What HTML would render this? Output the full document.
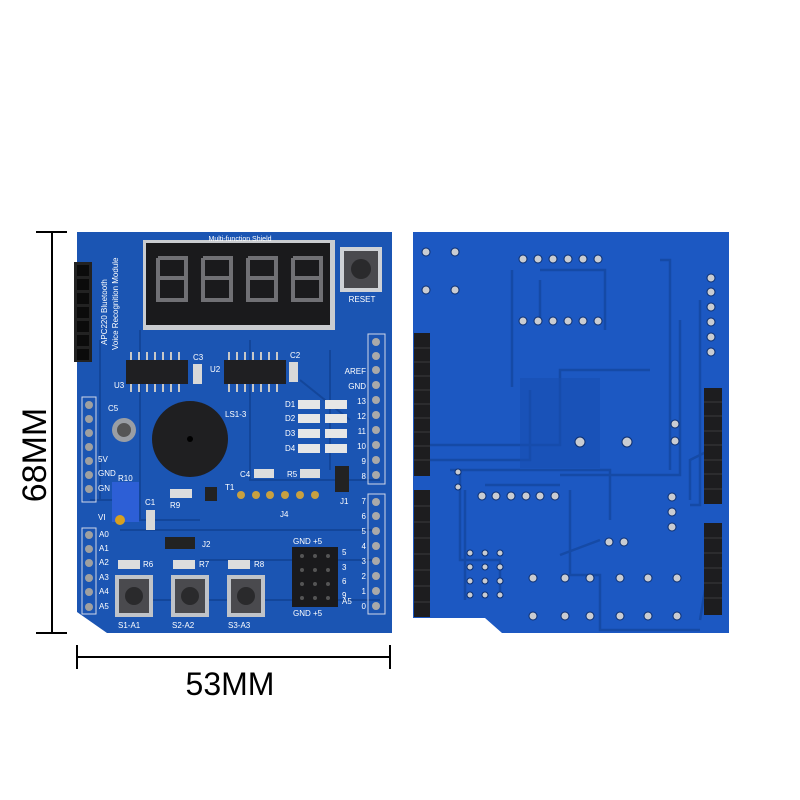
<!DOCTYPE html>
<html><head><meta charset="utf-8"><style>
html,body{margin:0;padding:0;background:#fff;}
svg{display:block;}
text{font-family:"Liberation Sans",sans-serif;}
</style></head><body>
<svg width="800" height="800" viewBox="0 0 800 800" xmlns="http://www.w3.org/2000/svg">
<rect width="800" height="800" fill="#fff"/>
<!-- dimension lines -->
<g stroke="#000" stroke-width="2">
<line x1="52" y1="232" x2="52" y2="633"/>
<line x1="36" y1="232" x2="67" y2="232"/>
<line x1="36" y1="633" x2="67" y2="633"/>
<line x1="77" y1="657" x2="390" y2="657"/>
<line x1="77" y1="645" x2="77" y2="669"/>
<line x1="390" y1="645" x2="390" y2="669"/>
</g>
<text x="0" y="0" font-size="34" transform="translate(46,455) rotate(-90)" text-anchor="middle">68MM</text>
<text x="230" y="695" font-size="32" text-anchor="middle">53MM</text>

<!-- LEFT BOARD -->
<path d="M77,232 L392,232 L392,633 L107,633 L77,612 Z" fill="#1b55b3"/>
<g stroke="#13469a" stroke-width="2" fill="none">
<path d="M100,340 L100,500 M140,330 L140,520 L200,520 M250,340 L250,480 L380,480 M300,380 L350,420 M120,530 L380,530 M200,560 L300,560 L380,560 M150,600 L380,600 M330,350 L330,470 M90,500 L140,500"/>
</g>
<!-- 7seg display -->
<rect x="143" y="240" width="192" height="90" fill="#c9ccd0"/>
<rect x="146" y="243" width="184" height="82" fill="#1a1a1c"/>
<g stroke="#707074" stroke-width="4" fill="none">
<path d="M158,258 h28 v20 h-28 v22 h28 v-22 M158,258 v20"/>
<path d="M203,258 h28 v20 h-28 v22 h28 v-22 M203,258 v20"/>
<path d="M248,258 h28 v20 h-28 v22 h28 v-22 M248,258 v20"/>
<path d="M293,258 h28 v20 h-28 v22 h28 v-22 M293,258 v20"/>
</g>
<text x="240" y="241" font-size="7" fill="#fff" text-anchor="middle">Multi-function Shield</text>
<!-- reset -->
<rect x="340" y="247" width="42" height="45" fill="#cfd2d6"/>
<rect x="344" y="251" width="34" height="37" fill="#4a4a4e"/>
<circle cx="361" cy="269" r="10" fill="#2a2a2c"/>
<text x="362" y="302" font-size="8" fill="#fff" text-anchor="middle">RESET</text>
<!-- left bluetooth header -->
<rect x="74" y="262" width="18" height="100" fill="#222"/>
<g fill="#0b0b0b"><rect x="77" y="265" width="12" height="11"/><rect x="77" y="279" width="12" height="11"/><rect x="77" y="293" width="12" height="11"/><rect x="77" y="307" width="12" height="11"/><rect x="77" y="321" width="12" height="11"/><rect x="77" y="335" width="12" height="11"/><rect x="77" y="349" width="12" height="11"/></g>
<text font-size="8" fill="#fff" transform="translate(107,345) rotate(-90)">APC220 Bluetooth</text>
<text font-size="8" fill="#fff" transform="translate(118,350) rotate(-90)">Voice Recognition Module</text>
<!-- chips -->
<rect x="126" y="360" width="62" height="24" fill="#1f1f22"/>
<rect x="224" y="360" width="62" height="24" fill="#1f1f22"/>
<g stroke="#c8c8c8" stroke-width="2">
<path d="M131,352 v8 M139,352 v8 M147,352 v8 M155,352 v8 M163,352 v8 M171,352 v8 M179,352 v8 M131,384 v8 M139,384 v8 M147,384 v8 M155,384 v8 M163,384 v8 M171,384 v8 M179,384 v8"/>
<path d="M229,352 v8 M237,352 v8 M245,352 v8 M253,352 v8 M261,352 v8 M269,352 v8 M277,352 v8 M229,384 v8 M237,384 v8 M245,384 v8 M253,384 v8 M261,384 v8 M269,384 v8 M277,384 v8"/>
</g>
<text x="193" y="360" font-size="8" fill="#fff">C3</text><text x="210" y="372" font-size="8" fill="#fff">U2</text>
<text x="290" y="358" font-size="8" fill="#fff">C2</text><text x="114" y="388" font-size="8" fill="#fff">U3</text>
<rect x="193" y="364" width="9" height="20" fill="#d8d8d8"/><rect x="289" y="362" width="9" height="20" fill="#d8d8d8"/>
<!-- right header top -->
<rect x="368" y="334" width="17" height="150" fill="none" stroke="#d0d8e8" stroke-width="1"/>
<g fill="#a9a9a9"><circle cx="376" cy="342" r="4"/><circle cx="376" cy="356" r="4"/><circle cx="376" cy="370" r="4"/><circle cx="376" cy="385" r="4"/><circle cx="376" cy="400" r="4"/><circle cx="376" cy="415" r="4"/><circle cx="376" cy="430" r="4"/><circle cx="376" cy="445" r="4"/><circle cx="376" cy="460" r="4"/><circle cx="376" cy="475" r="4"/></g>
<g font-size="8" fill="#fff" text-anchor="end"><text x="366" y="374">AREF</text><text x="366" y="389">GND</text><text x="366" y="404">13</text><text x="366" y="419">12</text><text x="366" y="434">11</text><text x="366" y="449">10</text><text x="366" y="464">9</text><text x="366" y="479">8</text></g>
<!-- LEDs -->
<g font-size="8" fill="#fff"><text x="285" y="407">D1</text><text x="285" y="421">D2</text><text x="285" y="436">D3</text><text x="285" y="451">D4</text></g>
<g fill="#e6e6e6"><rect x="298" y="400" width="22" height="9"/><rect x="298" y="414" width="22" height="9"/><rect x="298" y="429" width="22" height="9"/><rect x="298" y="444" width="22" height="9"/>
<rect x="325" y="400" width="22" height="9"/><rect x="325" y="414" width="22" height="9"/><rect x="325" y="429" width="22" height="9"/><rect x="325" y="444" width="22" height="9"/></g>
<!-- left power header -->
<rect x="82" y="397" width="14" height="105" fill="none" stroke="#d0d8e8"/>
<g fill="#a0a0a0"><circle cx="89" cy="405" r="4"/><circle cx="89" cy="419" r="4"/><circle cx="89" cy="433" r="4"/><circle cx="89" cy="447" r="4"/><circle cx="89" cy="461" r="4"/><circle cx="89" cy="475" r="4"/><circle cx="89" cy="489" r="4"/></g>
<g font-size="8" fill="#fff"><text x="98" y="462">5V</text><text x="98" y="476">GND</text><text x="98" y="491">GN</text><text x="98" y="520">VI</text></g>
<text x="108" y="411" font-size="8" fill="#fff">C5</text>
<circle cx="124" cy="430" r="12" fill="#9a9ea4"/><circle cx="124" cy="430" r="7" fill="#555"/>
<!-- buzzer -->
<circle cx="190" cy="439" r="38" fill="#1f1f21"/><circle cx="190" cy="439" r="3" fill="#000"/>
<text x="225" y="417" font-size="8" fill="#fff">LS1-3</text>
<!-- pot -->
<rect x="112" y="482" width="27" height="40" fill="#2d5fd6"/><circle cx="120" cy="520" r="5" fill="#d8a020"/>
<text x="118" y="481" font-size="8" fill="#fff">R10</text>
<text x="145" y="505" font-size="8" fill="#fff">C1</text><rect x="146" y="510" width="9" height="20" fill="#d8d8d8"/>
<text x="240" y="477" font-size="8" fill="#fff">C4</text><rect x="254" y="469" width="20" height="9" fill="#ddd"/>
<text x="287" y="477" font-size="8" fill="#fff">R5</text><rect x="300" y="469" width="20" height="9" fill="#ddd"/>
<rect x="170" y="489" width="22" height="9" fill="#ddd"/><text x="170" y="508" font-size="8" fill="#fff">R9</text>
<rect x="205" y="487" width="12" height="14" fill="#222"/><text x="225" y="490" font-size="8" fill="#fff">T1</text>
<g fill="#c8a040"><circle cx="241" cy="495" r="4"/><circle cx="256" cy="495" r="4"/><circle cx="270" cy="495" r="4"/><circle cx="285" cy="495" r="4"/><circle cx="300" cy="495" r="4"/><circle cx="315" cy="495" r="4"/></g>
<text x="280" y="517" font-size="8" fill="#fff">J4</text>
<rect x="335" y="466" width="14" height="26" fill="#222"/><text x="340" y="504" font-size="8" fill="#fff">J1</text>
<rect x="165" y="537" width="30" height="12" fill="#222"/><text x="202" y="547" font-size="8" fill="#fff">J2</text>
<!-- right lower header -->
<rect x="368" y="494" width="17" height="120" fill="none" stroke="#d0d8e8"/>
<g fill="#a9a9a9"><circle cx="376" cy="502" r="4"/><circle cx="376" cy="516" r="4"/><circle cx="376" cy="531" r="4"/><circle cx="376" cy="546" r="4"/><circle cx="376" cy="561" r="4"/><circle cx="376" cy="576" r="4"/><circle cx="376" cy="591" r="4"/><circle cx="376" cy="606" r="4"/></g>
<g font-size="8" fill="#fff" text-anchor="end"><text x="366" y="504">7</text><text x="366" y="519">6</text><text x="366" y="534">5</text><text x="366" y="549">4</text><text x="366" y="564">3</text><text x="366" y="579">2</text><text x="366" y="594">1</text><text x="366" y="609">0</text></g>
<!-- 2x4 header -->
<rect x="292" y="547" width="46" height="60" fill="#1a1a1c"/>
<g fill="#555"><circle cx="302" cy="556" r="2"/><circle cx="315" cy="556" r="2"/><circle cx="328" cy="556" r="2"/><circle cx="302" cy="570" r="2"/><circle cx="315" cy="570" r="2"/><circle cx="328" cy="570" r="2"/><circle cx="302" cy="584" r="2"/><circle cx="315" cy="584" r="2"/><circle cx="328" cy="584" r="2"/><circle cx="302" cy="598" r="2"/><circle cx="315" cy="598" r="2"/><circle cx="328" cy="598" r="2"/></g>
<text x="293" y="544" font-size="8" fill="#fff">GND +5</text><text x="293" y="616" font-size="8" fill="#fff">GND +5</text>
<g font-size="8" fill="#fff"><text x="342" y="555">5</text><text x="342" y="570">3</text><text x="342" y="584">6</text><text x="342" y="598">9</text><text x="342" y="604">A5</text></g>
<!-- A header -->
<rect x="82" y="528" width="14" height="86" fill="none" stroke="#d0d8e8"/>
<g fill="#a0a0a0"><circle cx="89" cy="535" r="4"/><circle cx="89" cy="549" r="4"/><circle cx="89" cy="563" r="4"/><circle cx="89" cy="578" r="4"/><circle cx="89" cy="592" r="4"/><circle cx="89" cy="607" r="4"/></g>
<g font-size="8" fill="#fff"><text x="99" y="537">A0</text><text x="99" y="551">A1</text><text x="99" y="565">A2</text><text x="99" y="580">A3</text><text x="99" y="594">A4</text><text x="99" y="609">A5</text></g>
<!-- buttons -->
<g fill="#ddd"><rect x="118" y="560" width="22" height="9"/><rect x="173" y="560" width="22" height="9"/><rect x="228" y="560" width="22" height="9"/></g>
<g font-size="8" fill="#fff"><text x="143" y="567">R6</text><text x="199" y="567">R7</text><text x="254" y="567">R8</text></g>
<g><rect x="115" y="575" width="38" height="42" fill="#c0c3c8"/><rect x="119" y="579" width="30" height="34" fill="#4a4a4e"/><circle cx="134" cy="596" r="9" fill="#2a2a2c"/>
<rect x="171" y="575" width="38" height="42" fill="#c0c3c8"/><rect x="175" y="579" width="30" height="34" fill="#4a4a4e"/><circle cx="190" cy="596" r="9" fill="#2a2a2c"/>
<rect x="227" y="575" width="38" height="42" fill="#c0c3c8"/><rect x="231" y="579" width="30" height="34" fill="#4a4a4e"/><circle cx="246" cy="596" r="9" fill="#2a2a2c"/></g>
<g font-size="8" fill="#fff"><text x="118" y="628">S1-A1</text><text x="172" y="628">S2-A2</text><text x="228" y="628">S3-A3</text></g>

<!-- RIGHT BOARD -->
<path d="M413,232 L729,232 L729,633 L502,633 L485,618 L413,618 Z" fill="#1c58c2"/>
<g stroke="#154aa6" stroke-width="2.5" fill="none">
<path d="M512,270 L512,387 M540,270 L605,270 L605,330 M540,280 L540,318 M700,300 L700,505 L690,505 M680,320 L680,475 L560,475 M660,260 L670,260 L670,470 M430,445 L560,445 L560,370 L650,370 M430,460 L530,460 L530,390 M450,470 L610,470 L610,520 M485,485 L560,485 M465,490 L465,600 M460,470 L460,560 L500,560 L500,595 M570,490 L570,575 L600,575 L600,630 L700,630 M600,540 L560,555 M710,450 L690,460 L690,500 M705,590 L700,620"/>
</g>
<rect x="520" y="378" width="80" height="90" fill="#174fb0" opacity="0.6"/>
<!-- pads -->
<g fill="#c9ccd2" stroke="#0d2f70" stroke-width="1">
<circle cx="426" cy="252" r="4"/><circle cx="455" cy="252" r="4"/><circle cx="426" cy="290" r="4"/><circle cx="455" cy="290" r="4"/>
<circle cx="523" cy="259" r="4"/><circle cx="538" cy="259" r="4"/><circle cx="553" cy="259" r="4"/><circle cx="568" cy="259" r="4"/><circle cx="583" cy="259" r="4"/><circle cx="598" cy="259" r="4"/>
<circle cx="523" cy="321" r="4"/><circle cx="538" cy="321" r="4"/><circle cx="553" cy="321" r="4"/><circle cx="568" cy="321" r="4"/><circle cx="583" cy="321" r="4"/><circle cx="598" cy="321" r="4"/>
<circle cx="711" cy="278" r="4"/><circle cx="711" cy="292" r="4"/><circle cx="711" cy="307" r="4"/><circle cx="711" cy="322" r="4"/><circle cx="711" cy="337" r="4"/><circle cx="711" cy="352" r="4"/>
<circle cx="580" cy="442" r="5"/><circle cx="627" cy="442" r="5"/><circle cx="675" cy="424" r="4"/><circle cx="675" cy="441" r="4"/>
<circle cx="482" cy="496" r="4"/><circle cx="496" cy="496" r="4"/><circle cx="511" cy="496" r="4"/><circle cx="526" cy="496" r="4"/><circle cx="540" cy="496" r="4"/><circle cx="555" cy="496" r="4"/>
<circle cx="458" cy="472" r="3"/><circle cx="458" cy="487" r="3"/>
<circle cx="609" cy="542" r="4"/><circle cx="624" cy="542" r="4"/>
<circle cx="672" cy="497" r="4"/><circle cx="672" cy="512" r="4"/><circle cx="672" cy="527" r="4"/>
<circle cx="533" cy="578" r="4"/><circle cx="565" cy="578" r="4"/><circle cx="590" cy="578" r="4"/><circle cx="620" cy="578" r="4"/><circle cx="648" cy="578" r="4"/><circle cx="677" cy="578" r="4"/>
<circle cx="533" cy="616" r="4"/><circle cx="565" cy="616" r="4"/><circle cx="590" cy="616" r="4"/><circle cx="620" cy="616" r="4"/><circle cx="648" cy="616" r="4"/><circle cx="677" cy="616" r="4"/>
<circle cx="470" cy="553" r="3"/><circle cx="485" cy="553" r="3"/><circle cx="500" cy="553" r="3"/><circle cx="470" cy="567" r="3"/><circle cx="485" cy="567" r="3"/><circle cx="500" cy="567" r="3"/><circle cx="470" cy="581" r="3"/><circle cx="485" cy="581" r="3"/><circle cx="500" cy="581" r="3"/><circle cx="470" cy="595" r="3"/><circle cx="485" cy="595" r="3"/><circle cx="500" cy="595" r="3"/>
</g>
<!-- black headers -->
<g fill="#1d1d1f">
<rect x="414" y="333" width="16" height="143"/>
<rect x="414" y="490" width="16" height="127"/>
<rect x="704" y="388" width="18" height="116"/>
<rect x="704" y="523" width="18" height="92"/>
</g>
<g stroke="#3a3a3e" stroke-width="1">
<path d="M414,348 h16 M414,362 h16 M414,376 h16 M414,390 h16 M414,404 h16 M414,418 h16 M414,432 h16 M414,446 h16 M414,460 h16"/>
<path d="M414,506 h16 M414,522 h16 M414,538 h16 M414,554 h16 M414,570 h16 M414,586 h16 M414,602 h16"/>
<path d="M704,402 h18 M704,416 h18 M704,431 h18 M704,445 h18 M704,460 h18 M704,474 h18 M704,489 h18"/>
<path d="M704,538 h18 M704,553 h18 M704,568 h18 M704,583 h18 M704,598 h18"/>
</g>
</svg>
</body></html>
